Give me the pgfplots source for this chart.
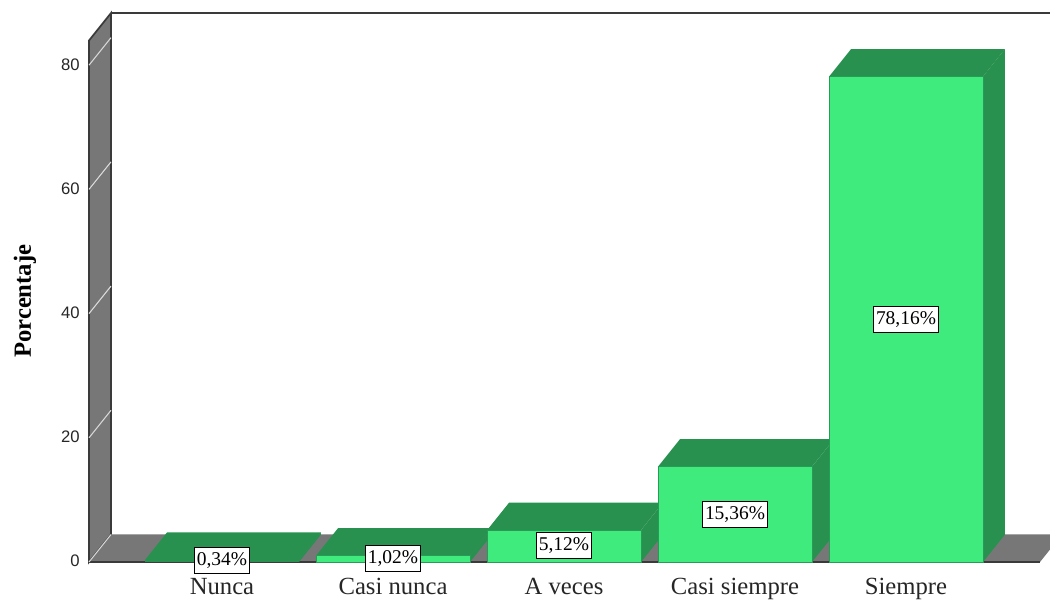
\documentclass[border=0pt]{standalone}
\usepackage{fontspec}
\setmainfont{Liberation Serif}
\newfontfamily\tickfont{Liberation Sans}
\usepackage{pgfplots}
\pgfplotsset{compat=1.18}
\definecolor{front}{HTML}{40EB7D}
\definecolor{shade}{HTML}{28914F}
\definecolor{edge}{HTML}{2A9A56}
\definecolor{wall}{HTML}{777777}
\definecolor{rim}{HTML}{3A3A3A}

% bar heights and label positions, x is the category number
\pgfplotstableread{
x y lab
0 0.3 0,34
1 0.6 1,02
2 2.7 5,12
3 7.7 15,36
4 39.0 78,16
}\labels

\begin{document}
\begin{tikzpicture}
\path[use as bounding box, clip] (-66.75pt,-29.25pt) rectangle ++(787.5pt,450.75pt);
\begin{axis}[
    at={(0,0)}, anchor=south west,
    scale only axis,
    width=713.25pt, height=411.75pt,
    xmin=-0.7778, xmax=4.7836,
    ymin=0, ymax=88.4,
    clip=false,
    axis line style={draw=none},
    major tick length=0pt,
    tick style={draw=none},
    xtick={0,1,2,3,4},
    xticklabels={Nunca,Casi nunca,A veces,Casi siempre,Siempre},
    ytick={0,20,40,60,80},
    /pgf/number format/assume math mode=true,
    x tick label style={anchor=base, yshift=-24pt, font=\fontsize{18.5}{20}\selectfont, text=black!85},
    y tick label style={anchor=east, inner sep=0pt, xshift=-6.75pt, yshift=0.6pt, font=\tickfont\fontsize{12.5}{15}\selectfont, text=black!85},
    ylabel={Porcentaje},
    every axis y label/.style={at={(axis description cs:-0.0673,0.475)}, rotate=90, anchor=center, font=\bfseries\fontsize{18.5}{20}\selectfont},
]
% back walls and floor
\addplot[fill=wall, draw=rim, line width=1.3pt] coordinates {(-0.7778,0) (-0.6491,4.43) (-0.6491,88.4) (-0.7778,83.97)} --cycle;
\addplot[fill=wall, draw=none] coordinates {(-0.7778,0) (4.7836,0) (4.9123,4.43) (-0.6491,4.43)} --cycle;
\addplot[rim, line width=1.8pt] coordinates {(-0.6491,88.4) (4.95,88.4)};
\addplot[rim, line width=1.8pt] coordinates {(-0.7778,0) (4.7836,0)};
\addplot[white!85!black, line width=0.8pt] coordinates {(-0.7778,0) (-0.6491,4.43)};
\addplot[white!85!black, line width=0.8pt] coordinates {(-0.7778,20) (-0.6491,24.43)};
\addplot[white!85!black, line width=0.8pt] coordinates {(-0.7778,40) (-0.6491,44.43)};
\addplot[white!85!black, line width=0.8pt] coordinates {(-0.7778,60) (-0.6491,64.43)};
\addplot[white!85!black, line width=0.8pt] coordinates {(-0.7778,80) (-0.6491,84.43)};

% Nunca
\addplot[fill=shade, draw=none] coordinates {(0.45,0) (0.5787,4.43) (0.5787,4.77) (0.45,0.34)} --cycle;
\addplot[fill=shade, draw=none] coordinates {(-0.45,0.34) (0.45,0.34) (0.5787,4.77) (-0.3213,4.77)} --cycle;
\addplot[ybar, bar shift=0pt, bar width=115.5pt, fill=shade, draw=none] coordinates {(0,0.34)};
% Casi nunca
\addplot[fill=shade, draw=none] coordinates {(1.45,0) (1.5787,4.43) (1.5787,5.45) (1.45,1.02)} --cycle;
\addplot[fill=shade, draw=none] coordinates {(0.55,1.02) (1.45,1.02) (1.5787,5.45) (0.6787,5.45)} --cycle;
\addplot[ybar, bar shift=0pt, bar width=115.5pt, fill=front, draw=edge, line width=0.4pt] coordinates {(1,1.02)};
% A veces
\addplot[fill=shade, draw=none] coordinates {(2.45,0) (2.5787,4.43) (2.5787,9.55) (2.45,5.12)} --cycle;
\addplot[fill=shade, draw=none] coordinates {(1.55,5.12) (2.45,5.12) (2.5787,9.55) (1.6787,9.55)} --cycle;
\addplot[ybar, bar shift=0pt, bar width=115.5pt, fill=front, draw=edge, line width=0.4pt] coordinates {(2,5.12)};
% Casi siempre
\addplot[fill=shade, draw=none] coordinates {(3.45,0) (3.5787,4.43) (3.5787,19.79) (3.45,15.36)} --cycle;
\addplot[fill=shade, draw=none] coordinates {(2.55,15.36) (3.45,15.36) (3.5787,19.79) (2.6787,19.79)} --cycle;
\addplot[ybar, bar shift=0pt, bar width=115.5pt, fill=front, draw=edge, line width=0.4pt] coordinates {(3,15.36)};
% Siempre
\addplot[fill=shade, draw=none] coordinates {(4.45,0) (4.5787,4.43) (4.5787,82.59) (4.45,78.16)} --cycle;
\addplot[fill=shade, draw=none] coordinates {(3.55,78.16) (4.45,78.16) (4.5787,82.59) (3.6787,82.59)} --cycle;
\addplot[ybar, bar shift=0pt, bar width=115.5pt, fill=front, draw=edge, line width=0.4pt] coordinates {(4,78.16)};

% value boxes
\addplot[draw=none, mark=none,
    point meta=explicit symbolic,
    nodes near coords={\pgfplotspointmeta\%},
    every node near coord/.append style={anchor=center, draw=black, fill=white, line width=0.9pt,
        inner xsep=1.8pt, inner ysep=3.8pt, text=black, font=\fontsize{14.6}{16}\selectfont},
] table[x=x, y=y, meta=lab] {\labels};
\end{axis}
\end{tikzpicture}
\end{document}
